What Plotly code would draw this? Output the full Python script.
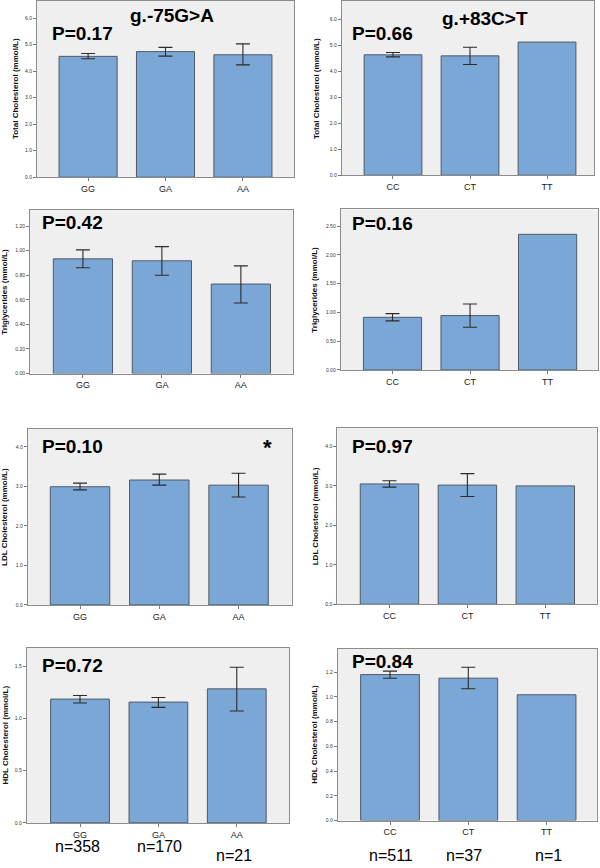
import plotly.graph_objects as go

W, H = 600, 868

# ---------------- data ----------------
snp1_genotypes = ["GG", "GA", "AA"]
snp2_genotypes = ["CC", "CT", "TT"]

tc_snp1_mean = [4.56, 4.74, 4.62]
tc_snp1_hi = [4.67, 4.90, 5.03]
tc_snp1_lo = [4.47, 4.57, 4.24]
tc_snp2_mean = [4.63, 4.59, 5.12]
tc_snp2_hi = [4.72, 4.92, None]
tc_snp2_lo = [4.55, 4.26, None]

tg_snp1_mean = [0.933, 0.917, 0.728]
tg_snp1_hi = [1.006, 1.032, 0.876]
tg_snp1_lo = [0.860, 0.800, 0.574]
tg_snp2_mean = [0.915, 0.945, 2.356]
tg_snp2_hi = [0.979, 1.147, None]
tg_snp2_lo = [0.853, 0.743, None]

ldl_snp1_mean = [2.99, 3.16, 3.03]
ldl_snp1_hi = [3.08, 3.31, 3.33]
ldl_snp1_lo = [2.91, 3.03, 2.73]
ldl_snp2_mean = [3.05, 3.02, 3.00]
ldl_snp2_hi = [3.13, 3.31, None]
ldl_snp2_lo = [2.97, 2.73, None]

hdl_snp1_mean = [1.186, 1.157, 1.284]
hdl_snp1_hi = [1.220, 1.201, 1.491]
hdl_snp1_lo = [1.148, 1.106, 1.071]
hdl_snp2_mean = [1.180, 1.151, 1.017]
hdl_snp2_hi = [1.208, 1.240, None]
hdl_snp2_lo = [1.151, 1.065, None]

p_values = ["P=0.17", "P=0.66", "P=0.42", "P=0.16", "P=0.10", "P=0.97", "P=0.72", "P=0.84"]
snp_titles = ["g.-75G>A", "g.+83C>T"]
y_titles = ["Total Cholesterol (mmol/L)", "Triglycerides (mmol/L)",
            "LDL Cholesterol (mmol/L)", "HDL Cholesterol (mmol/L)"]
n_snp1 = ["n=358", "n=170", "n=21"]
n_snp2 = ["n=511", "n=37", "n=1"]

# ---------------- layout geometry (pixels) ----------------
def px(x):
    return x / W

def py(y):
    return 1 - y / H

panels = [
    # (genotypes, mean, hi, lo, ytitle, frame px (x0,x1,ytop,ybot), ymax, dtick, fmt, xrange)
    (snp1_genotypes, tc_snp1_mean, tc_snp1_hi, tc_snp1_lo, y_titles[0], (37, 294, 0, 177), 6.65, 1, ".1f", (-0.66, 2.66)),
    (snp2_genotypes, tc_snp2_mean, tc_snp2_hi, tc_snp2_lo, y_titles[0], (341.7, 594, 0, 175), 6.70, 1, ".1f", (-0.666, 2.61)),
    (snp1_genotypes, tg_snp1_mean, tg_snp1_hi, tg_snp1_lo, y_titles[1], (30, 293, 210, 374.3), 1.33, 0.2, ".2f", (-0.67, 2.66)),
    (snp2_genotypes, tg_snp2_mean, tg_snp2_hi, tg_snp2_lo, y_titles[1], (340.7, 598, 209.3, 370.7), 2.79, 0.5, ".2f", (-0.668, 2.65)),
    (snp1_genotypes, ldl_snp1_mean, ldl_snp1_hi, ldl_snp1_lo, y_titles[2], (27.7, 291.7, 430, 606.7), 4.45, 1, ".1f", (-0.66, 2.67)),
    (snp2_genotypes, ldl_snp2_mean, ldl_snp2_hi, ldl_snp2_lo, y_titles[2], (337.3, 596.7, 429.3, 606), 4.46, 1, ".1f", (-0.67, 2.66)),
    (snp1_genotypes, hdl_snp1_mean, hdl_snp1_hi, hdl_snp1_lo, y_titles[3], (26.7, 289.3, 650, 825.7), 1.675, 0.5, ".1f", (-0.68, 2.67)),
    (snp2_genotypes, hdl_snp2_mean, hdl_snp2_hi, hdl_snp2_lo, y_titles[3], (337.7, 596.7, 651, 823.3), 1.387, 0.2, ".1f", (-0.668, 2.64)),
]

ytitle_x = [15, 316, 5, 315, 5, 315, 5, 315]
p_pos = [(82, 33), (382.5, 33), (72.5, 223), (382.5, 224), (72.5, 448), (382.5, 448), (72.5, 668), (382.5, 664)]

BAR = "#7ba7d6"
EDGE = "#4f5a66"
FRAME = "#8c8c8c"
BG = "#efefef"
FONT = "Liberation Sans, Arial, sans-serif"

fig = go.Figure()
annotations = []
layout = {}

for i, (cats, mean, hi, lo, ytitle, fr, ymax, dtick, fmt, xr) in enumerate(panels):
    k = "" if i == 0 else str(i + 1)
    fig.add_trace(go.Bar(
        x=cats, y=mean, xaxis="x" + k, yaxis="y" + k,
        width=0.75,
        marker=dict(color=BAR, line=dict(color=EDGE, width=1)),
        showlegend=False, hoverinfo="skip",
    ))
    # error bars only where a confidence interval exists
    ex, ey, eu, ed = [], [], [], []
    for c, m, h, l in zip(cats, mean, hi, lo):
        if h is None or l is None:
            continue
        ex.append(c)
        ey.append(m)
        eu.append(h - m)
        ed.append(m - l)
    fig.add_trace(go.Scatter(
        x=ex, y=ey, xaxis="x" + k, yaxis="y" + k, mode="markers",
        marker=dict(size=1, opacity=0),
        error_y=dict(type="data", symmetric=False, array=eu, arrayminus=ed,
                     color="#2b2b2b", thickness=1.1, width=7),
        showlegend=False, hoverinfo="skip",
    ))
    x0, x1, yt, yb = fr
    layout["xaxis" + k] = dict(
        domain=[px(x0), px(x1)], anchor="y" + k, type="category",
        range=list(xr), showline=True, linecolor=FRAME, linewidth=1, mirror=True,
        ticks="outside", ticklen=3, tickcolor="#777", showgrid=False,
        tickfont=dict(family=FONT, size=9, color="#222"), fixedrange=True,
    )
    layout["yaxis" + k] = dict(
        domain=[py(yb), py(yt)], anchor="x" + k,
        range=[0, ymax], dtick=dtick, tick0=0, tickformat=fmt,
        showline=True, linecolor=FRAME, linewidth=1, mirror=True,
        ticks="outside", ticklen=3, tickcolor="#777", showgrid=False, zeroline=False,
        tickfont=dict(family=FONT, size=5, color="#333"), fixedrange=True,
    )
    annotations.append(dict(
        text="<b>" + ytitle + "</b>", xref="paper", yref="paper",
        x=px(ytitle_x[i]), y=py((yt + yb) / 2), textangle=-90, showarrow=False,
        font=dict(family=FONT, size=8, color="#111"), xanchor="center", yanchor="middle",
    ))
    annotations.append(dict(
        text="<b>" + p_values[i] + "</b>", xref="paper", yref="paper",
        x=px(p_pos[i][0]), y=py(p_pos[i][1]), showarrow=False,
        font=dict(family=FONT, size=19, color="#000"), xanchor="center", yanchor="middle",
    ))

# SNP titles
annotations.append(dict(text="<b>" + snp_titles[0] + "</b>", xref="paper", yref="paper",
                        x=px(171.5), y=py(15), showarrow=False,
                        font=dict(family=FONT, size=19, color="#000"),
                        xanchor="center", yanchor="middle"))
annotations.append(dict(text="<b>" + snp_titles[1] + "</b>", xref="paper", yref="paper",
                        x=px(485), y=py(18), showarrow=False,
                        font=dict(family=FONT, size=19, color="#000"),
                        xanchor="center", yanchor="middle"))
# star
annotations.append(dict(text="<b>*</b>", xref="paper", yref="paper",
                        x=px(267), y=py(449), showarrow=False,
                        font=dict(family=FONT, size=22, color="#000"),
                        xanchor="center", yanchor="middle"))

# group sizes
for lab, xc, yc in zip(n_snp1, [77.5, 159, 234], [849, 849, 858]):
    annotations.append(dict(text=lab, xref="paper", yref="paper", x=px(xc), y=py(yc),
                            showarrow=False, font=dict(family=FONT, size=16, color="#000"),
                            xanchor="center", yanchor="middle"))
for lab, xc in zip(n_snp2, [391, 464, 548]):
    annotations.append(dict(text=lab, xref="paper", yref="paper", x=px(xc), y=py(858),
                            showarrow=False, font=dict(family=FONT, size=16, color="#000"),
                            xanchor="center", yanchor="middle"))

fig.update_layout(
    width=W, height=H, margin=dict(l=0, r=0, t=0, b=0),
    paper_bgcolor="white", plot_bgcolor=BG, bargap=0.25,
    annotations=annotations, **layout,
)

fig.write_html(
    "out.html",
    config={"displayModeBar": False},
    post_script="document.body.style.margin='0';document.body.style.padding='0';"
                "document.documentElement.style.overflow='hidden';",
)
